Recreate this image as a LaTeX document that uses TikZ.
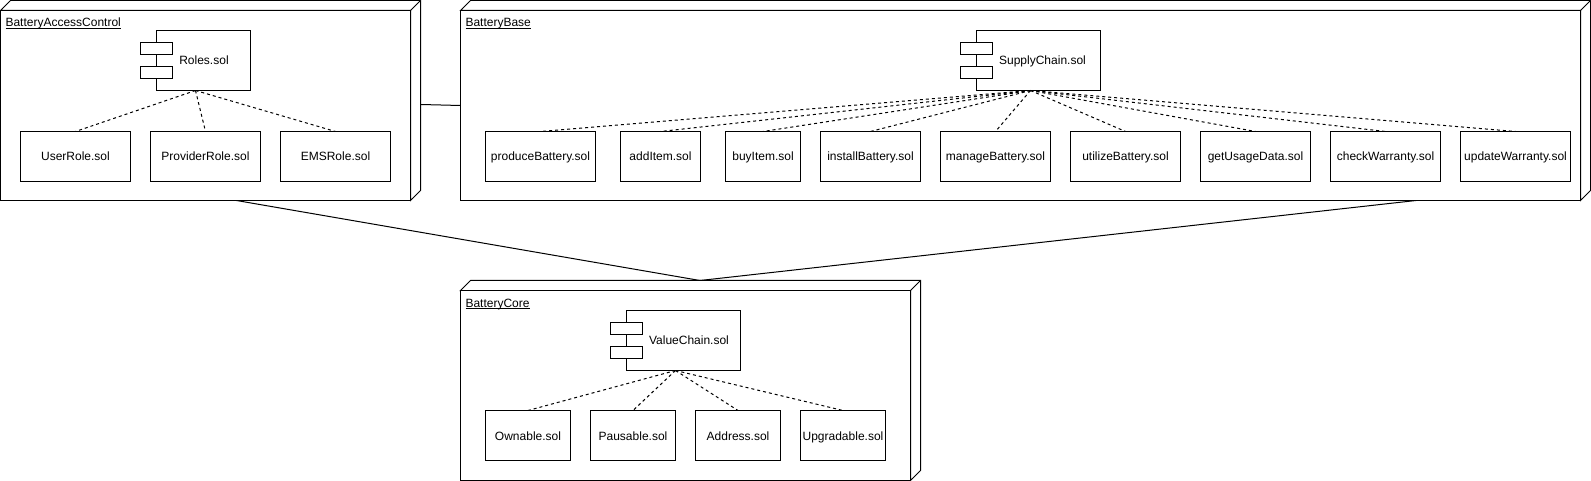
\documentclass[tikz,border=0pt]{standalone}
\usepackage{fontspec}
\setmainfont{Liberation Sans}
\newcommand{\ulin}[1]{\setbox0=\hbox{#1}\rlap{\rule[-1.9pt]{\wd0}{0.9pt}}\box0}
\tikzset{
  x=1pt,y=-1pt,
  every node/.style={font=\fontsize{12}{14}\selectfont,inner sep=0pt,outer sep=0pt},
  edge3d/.style={draw=black,line width=1pt,fill=white,line join=miter},
  artifact/.style={draw=black,line width=1pt,fill=white,anchor=north west,minimum height=50pt,text height=10pt,text depth=1pt},
  compframe/.style={anchor=north west,minimum height=60pt},
  complabel/.style={anchor=center,text height=9pt,text depth=1pt},
  depend/.style={draw=black,line width=1pt,dash pattern=on 3pt off 3pt},
  link/.style={draw=black,line width=1pt},
  title/.style={anchor=base west}
}
% #1 name, #2 x, #3 y, #4 width, #5 height
\newcommand{\umlnode}[5]{%
  \draw[edge3d] (#2,#3+10) -- ++(10,-10) -- ++(#4-10,0) -- ++(0,#5-10) -- ++(-10,10) -- ++(0,-#5+10) -- cycle;
  \draw[edge3d] (#2+#4-10,#3+10) -- ++(10,-10);
  \node[draw=black,line width=1pt,fill=white,anchor=north west,minimum width=#4pt-10pt,minimum height=#5pt-10pt] (#1) at (#2,#3+10) {};
}
% #1 name, #2 x, #3 y, #4 width, #5 text, #6 text centre x
\newcommand{\umlcomp}[6]{%
  \node[compframe,minimum width=#4pt] (#1) at (#2,#3) {};
  \node[draw=black,line width=1pt,fill=white,anchor=north west,minimum width=#4pt-16pt,minimum height=60pt] (#1body) at (#2+16,#3) {};
  \node[draw=black,line width=1pt,fill=white,anchor=north west,minimum width=32pt,minimum height=12pt] (#1porta) at (#2,#3+12) {};
  \node[draw=black,line width=1pt,fill=white,anchor=north west,minimum width=32pt,minimum height=12pt] (#1portb) at (#2,#3+36) {};
  \node[complabel] (#1label) at (#6,#3+30) {#5};
}
\begin{document}
\begin{tikzpicture}
\useasboundingbox (0,0) rectangle (1591,481);
% links between packages
\coordinate (acbottom) at (236.5,200.5);
\coordinate (basebottom) at (1416,200.5);
\coordinate (coretop) at (700,280.5);
\coordinate (acside) at (421,104.5);
\coordinate (baseside) at (460.5,105.5);
\draw[link] (acbottom) -- (coretop);
\draw[link] (basebottom) -- (coretop);
\draw[link] (acside) -- (baseside);
% containers
\umlnode{ac}{0.5}{0.5}{420}{200}
\umlnode{base}{460.5}{0.5}{1130}{200}
\umlnode{core}{460.5}{280.5}{460}{200}
\node[title] (actitle) at (5.5,27) {\ulin{BatteryAccessControl}};
\node[title] (basetitle) at (465.5,27) {\ulin{BatteryBase}};
\node[title] (coretitle) at (465.5,307) {\ulin{BatteryCore}};
% components
\umlcomp{roles}{140.5}{30.5}{110}{Roles.sol}{204}
\umlcomp{supply}{960.5}{30.5}{140}{SupplyChain.sol}{1042.5}
\umlcomp{value}{610.5}{310.5}{130}{ValueChain.sol}{689}
% artifacts
\foreach \n/\x/\w/\t in {user/20.5/110/UserRole.sol,provider/150.5/110/ProviderRole.sol,ems/280.5/110/EMSRole.sol,
  produce/485.5/110/produceBattery.sol,additem/620.5/80/addItem.sol,buyitem/725.5/75/buyItem.sol,install/820.5/100/installBattery.sol,
  manage/940.5/110/manageBattery.sol,utilize/1070.5/110/utilizeBattery.sol,usage/1200.5/110/getUsageData.sol,
  check/1330.5/110/checkWarranty.sol,update/1460.5/110/updateWarranty.sol}
  {\node[artifact,minimum width=\w pt] (\n) at (\x,131.5) {\t};}
\foreach \n/\x/\t in {ownable/485.5/Ownable.sol,pausable/590.5/Pausable.sol,address/695.5/Address.sol,upgradable/800.5/Upgradable.sol}
  {\node[artifact,minimum width=85pt] (\n) at (\x,410.5) {\t};}
% dependencies
\foreach \n in {user,provider,ems} {\draw[depend] (roles.south) -- (\n.north);}
\foreach \n in {produce,additem,buyitem,install,manage,utilize,usage,check,update} {\draw[depend] (supply.south) -- (\n.north);}
\foreach \n in {ownable,pausable,address,upgradable} {\draw[depend] (value.south) -- (\n.north);}
\end{tikzpicture}
\end{document}
